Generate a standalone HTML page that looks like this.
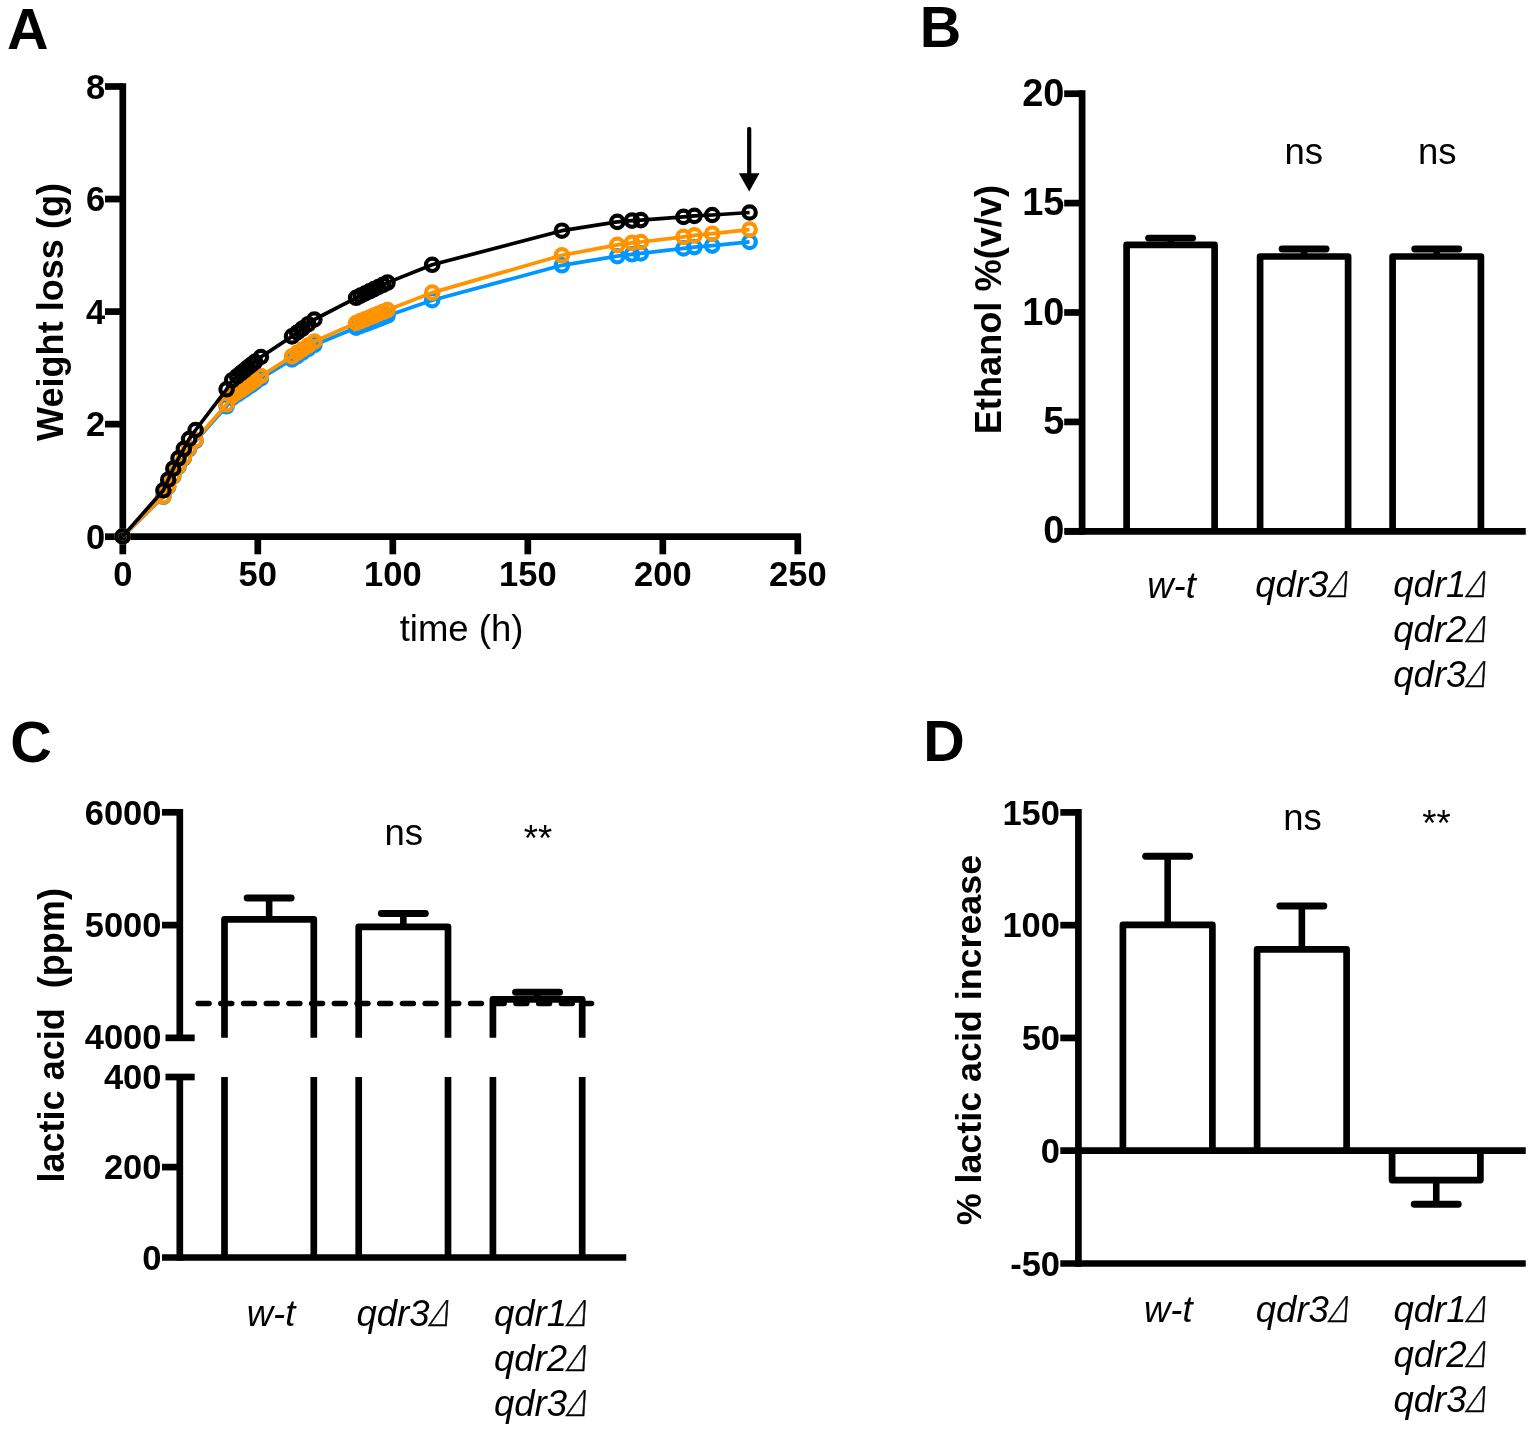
<!DOCTYPE html>
<html lang="en"><head><meta charset="utf-8"><title>Figure</title>
<style>
html,body{margin:0;padding:0;background:#fff;}
body{width:1534px;height:1432px;overflow:hidden;}
svg{display:block;}
text{font-family:"Liberation Sans",Arial,Helvetica,sans-serif;fill:#000;}
.dl{font-family:"DejaVu Sans Light","Liberation Sans",sans-serif;font-weight:normal;font-style:normal;}
</style></head><body>
<svg width="1534" height="1432" viewBox="0 0 1534 1432">
<rect width="1534" height="1432" fill="#fff"/>
<text x="7.00" y="49.00" font-size="57.5" font-weight="bold" font-style="normal" text-anchor="start" >A</text>
<text x="919.80" y="47.20" font-size="57.5" font-weight="bold" font-style="normal" text-anchor="start" >B</text>
<text x="10.30" y="761.80" font-size="57.5" font-weight="bold" font-style="normal" text-anchor="start" >C</text>
<text x="923.30" y="761.30" font-size="57.5" font-weight="bold" font-style="normal" text-anchor="start" >D</text>
<line x1="122.80" y1="83.15" x2="122.80" y2="540.05" stroke="#000" stroke-width="6.7" stroke-linecap="butt" />
<line x1="119.45" y1="536.70" x2="801.05" y2="536.70" stroke="#000" stroke-width="6.7" stroke-linecap="butt" />
<line x1="105.00" y1="536.70" x2="122.80" y2="536.70" stroke="#000" stroke-width="6.7" stroke-linecap="butt" />
<text font-size="34.5" font-weight="bold" font-style="normal" text-anchor="end" transform="translate(105.30,549.00) scale(1,1.03)" >0</text>
<line x1="105.00" y1="424.15" x2="122.80" y2="424.15" stroke="#000" stroke-width="6.7" stroke-linecap="butt" />
<text font-size="34.5" font-weight="bold" font-style="normal" text-anchor="end" transform="translate(105.30,436.45) scale(1,1.03)" >2</text>
<line x1="105.00" y1="311.60" x2="122.80" y2="311.60" stroke="#000" stroke-width="6.7" stroke-linecap="butt" />
<text font-size="34.5" font-weight="bold" font-style="normal" text-anchor="end" transform="translate(105.30,323.90) scale(1,1.03)" >4</text>
<line x1="105.00" y1="199.05" x2="122.80" y2="199.05" stroke="#000" stroke-width="6.7" stroke-linecap="butt" />
<text font-size="34.5" font-weight="bold" font-style="normal" text-anchor="end" transform="translate(105.30,211.35) scale(1,1.03)" >6</text>
<line x1="105.00" y1="86.50" x2="122.80" y2="86.50" stroke="#000" stroke-width="6.7" stroke-linecap="butt" />
<text font-size="34.5" font-weight="bold" font-style="normal" text-anchor="end" transform="translate(105.30,98.80) scale(1,1.03)" >8</text>
<line x1="122.80" y1="536.70" x2="122.80" y2="554.30" stroke="#000" stroke-width="6.7" stroke-linecap="butt" />
<text font-size="34.5" font-weight="bold" font-style="normal" text-anchor="middle" transform="translate(122.80,586.40) scale(1,1.03)" >0</text>
<line x1="257.80" y1="536.70" x2="257.80" y2="554.30" stroke="#000" stroke-width="6.7" stroke-linecap="butt" />
<text font-size="34.5" font-weight="bold" font-style="normal" text-anchor="middle" transform="translate(257.80,586.40) scale(1,1.03)" >50</text>
<line x1="392.80" y1="536.70" x2="392.80" y2="554.30" stroke="#000" stroke-width="6.7" stroke-linecap="butt" />
<text font-size="34.5" font-weight="bold" font-style="normal" text-anchor="middle" transform="translate(392.80,586.40) scale(1,1.03)" >100</text>
<line x1="527.80" y1="536.70" x2="527.80" y2="554.30" stroke="#000" stroke-width="6.7" stroke-linecap="butt" />
<text font-size="34.5" font-weight="bold" font-style="normal" text-anchor="middle" transform="translate(527.80,586.40) scale(1,1.03)" >150</text>
<line x1="662.80" y1="536.70" x2="662.80" y2="554.30" stroke="#000" stroke-width="6.7" stroke-linecap="butt" />
<text font-size="34.5" font-weight="bold" font-style="normal" text-anchor="middle" transform="translate(662.80,586.40) scale(1,1.03)" >200</text>
<line x1="797.80" y1="536.70" x2="797.80" y2="554.30" stroke="#000" stroke-width="6.7" stroke-linecap="butt" />
<text font-size="34.5" font-weight="bold" font-style="normal" text-anchor="middle" transform="translate(797.80,586.40) scale(1,1.03)" >250</text>
<text x="461.50" y="640.80" font-size="36.5" font-weight="normal" font-style="normal" text-anchor="middle" >time (h)</text>
<text x="62.50" y="312.00" font-size="36.1" font-weight="bold" font-style="normal" text-anchor="middle" transform="rotate(-90 62.50 312.00)" >Weight loss (g)</text>
<polyline points="122.7,536.4 163.4,496.8 168.2,486.9 173.3,476.5 178.5,466.9 183.9,458.3 189.1,449.1 195.6,441.0 226.6,406.3 232.2,397.9 237.0,394.7 241.0,392.0 244.5,389.6 248.0,387.2 251.5,384.9 255.0,382.5 260.9,378.5 292.0,359.4 297.2,356.1 302.4,352.7 308.2,349.0 314.4,345.0 356.1,327.7 360.6,326.0 365.0,324.3 369.5,322.6 374.0,320.9 378.5,319.1 383.0,317.4 387.5,315.7 432.2,300.2 561.9,265.3 617.3,256.2 632.0,254.3 640.8,253.4 683.5,248.4 694.4,247.1 712.2,245.6 749.6,241.9" fill="none" stroke="#0096FF" stroke-width="3.7" stroke-linejoin="round"/>
<g fill="none" stroke="#0096FF" stroke-width="4.2">
<circle cx="122.7" cy="536.4" r="6.2"/>
<circle cx="163.4" cy="496.8" r="6.2"/>
<circle cx="168.2" cy="486.9" r="6.2"/>
<circle cx="173.3" cy="476.5" r="6.2"/>
<circle cx="178.5" cy="466.9" r="6.2"/>
<circle cx="183.9" cy="458.3" r="6.2"/>
<circle cx="189.1" cy="449.1" r="6.2"/>
<circle cx="195.6" cy="441.0" r="6.2"/>
<circle cx="226.6" cy="406.3" r="6.2"/>
<circle cx="232.2" cy="397.9" r="6.2"/>
<circle cx="237.0" cy="394.7" r="6.2"/>
<circle cx="241.0" cy="392.0" r="6.2"/>
<circle cx="244.5" cy="389.6" r="6.2"/>
<circle cx="248.0" cy="387.2" r="6.2"/>
<circle cx="251.5" cy="384.9" r="6.2"/>
<circle cx="255.0" cy="382.5" r="6.2"/>
<circle cx="260.9" cy="378.5" r="6.2"/>
<circle cx="292.0" cy="359.4" r="6.2"/>
<circle cx="297.2" cy="356.1" r="6.2"/>
<circle cx="302.4" cy="352.7" r="6.2"/>
<circle cx="308.2" cy="349.0" r="6.2"/>
<circle cx="314.4" cy="345.0" r="6.2"/>
<circle cx="356.1" cy="327.7" r="6.2"/>
<circle cx="360.6" cy="326.0" r="6.2"/>
<circle cx="365.0" cy="324.3" r="6.2"/>
<circle cx="369.5" cy="322.6" r="6.2"/>
<circle cx="374.0" cy="320.9" r="6.2"/>
<circle cx="378.5" cy="319.1" r="6.2"/>
<circle cx="383.0" cy="317.4" r="6.2"/>
<circle cx="387.5" cy="315.7" r="6.2"/>
<circle cx="432.2" cy="300.2" r="6.2"/>
<circle cx="561.9" cy="265.3" r="6.2"/>
<circle cx="617.3" cy="256.2" r="6.2"/>
<circle cx="632.0" cy="254.3" r="6.2"/>
<circle cx="640.8" cy="253.4" r="6.2"/>
<circle cx="683.5" cy="248.4" r="6.2"/>
<circle cx="694.4" cy="247.1" r="6.2"/>
<circle cx="712.2" cy="245.6" r="6.2"/>
<circle cx="749.6" cy="241.9" r="6.2"/>
</g>
<polyline points="122.7,536.4 163.4,496.3 168.2,486.3 173.3,475.8 178.5,466.2 183.9,457.4 189.1,448.2 195.6,440.0 226.6,404.3 232.2,395.9 237.0,392.5 241.0,389.8 244.5,387.3 248.0,384.9 251.5,382.5 255.0,380.1 260.9,376.0 292.0,356.4 297.2,352.9 302.4,349.5 308.2,345.6 314.4,341.5 356.1,323.0 360.6,321.1 365.0,319.3 369.5,317.5 374.0,315.6 378.5,313.7 383.0,311.9 387.5,310.0 432.2,292.6 561.9,255.3 617.3,244.9 632.0,242.9 640.8,242.0 683.5,236.9 694.4,235.4 712.2,233.7 749.6,229.6" fill="none" stroke="#FF9300" stroke-width="3.7" stroke-linejoin="round"/>
<g fill="none" stroke="#FF9300" stroke-width="4.2">
<circle cx="122.7" cy="536.4" r="6.2"/>
<circle cx="163.4" cy="496.3" r="6.2"/>
<circle cx="168.2" cy="486.3" r="6.2"/>
<circle cx="173.3" cy="475.8" r="6.2"/>
<circle cx="178.5" cy="466.2" r="6.2"/>
<circle cx="183.9" cy="457.4" r="6.2"/>
<circle cx="189.1" cy="448.2" r="6.2"/>
<circle cx="195.6" cy="440.0" r="6.2"/>
<circle cx="226.6" cy="404.3" r="6.2"/>
<circle cx="232.2" cy="395.9" r="6.2"/>
<circle cx="237.0" cy="392.5" r="6.2"/>
<circle cx="241.0" cy="389.8" r="6.2"/>
<circle cx="244.5" cy="387.3" r="6.2"/>
<circle cx="248.0" cy="384.9" r="6.2"/>
<circle cx="251.5" cy="382.5" r="6.2"/>
<circle cx="255.0" cy="380.1" r="6.2"/>
<circle cx="260.9" cy="376.0" r="6.2"/>
<circle cx="292.0" cy="356.4" r="6.2"/>
<circle cx="297.2" cy="352.9" r="6.2"/>
<circle cx="302.4" cy="349.5" r="6.2"/>
<circle cx="308.2" cy="345.6" r="6.2"/>
<circle cx="314.4" cy="341.5" r="6.2"/>
<circle cx="356.1" cy="323.0" r="6.2"/>
<circle cx="360.6" cy="321.1" r="6.2"/>
<circle cx="365.0" cy="319.3" r="6.2"/>
<circle cx="369.5" cy="317.5" r="6.2"/>
<circle cx="374.0" cy="315.6" r="6.2"/>
<circle cx="378.5" cy="313.7" r="6.2"/>
<circle cx="383.0" cy="311.9" r="6.2"/>
<circle cx="387.5" cy="310.0" r="6.2"/>
<circle cx="432.2" cy="292.6" r="6.2"/>
<circle cx="561.9" cy="255.3" r="6.2"/>
<circle cx="617.3" cy="244.9" r="6.2"/>
<circle cx="632.0" cy="242.9" r="6.2"/>
<circle cx="640.8" cy="242.0" r="6.2"/>
<circle cx="683.5" cy="236.9" r="6.2"/>
<circle cx="694.4" cy="235.4" r="6.2"/>
<circle cx="712.2" cy="233.7" r="6.2"/>
<circle cx="749.6" cy="229.6" r="6.2"/>
</g>
<polyline points="122.7,536.4 163.4,490.3 168.2,479.7 173.3,468.6 178.5,458.3 183.9,448.9 189.1,439.0 195.6,430.0 226.6,389.3 232.2,380.2 237.0,376.3 241.0,373.1 244.5,370.3 248.0,367.4 251.5,364.6 255.0,361.8 260.9,357.0 292.0,336.4 297.2,332.5 302.4,328.6 308.2,324.2 314.4,319.5 356.1,297.8 360.6,295.6 365.0,293.5 369.5,291.3 374.0,289.1 378.5,287.0 383.0,284.8 387.5,282.6 432.2,264.8 561.9,230.7 617.3,221.9 632.0,220.6 640.8,220.1 683.5,216.9 694.4,215.9 712.2,215.0 749.6,212.5" fill="none" stroke="#000" stroke-width="3.7" stroke-linejoin="round"/>
<g fill="none" stroke="#000" stroke-width="4.2">
<circle cx="122.7" cy="536.4" r="6.2"/>
<circle cx="163.4" cy="490.3" r="6.2"/>
<circle cx="168.2" cy="479.7" r="6.2"/>
<circle cx="173.3" cy="468.6" r="6.2"/>
<circle cx="178.5" cy="458.3" r="6.2"/>
<circle cx="183.9" cy="448.9" r="6.2"/>
<circle cx="189.1" cy="439.0" r="6.2"/>
<circle cx="195.6" cy="430.0" r="6.2"/>
<circle cx="226.6" cy="389.3" r="6.2"/>
<circle cx="232.2" cy="380.2" r="6.2"/>
<circle cx="237.0" cy="376.3" r="6.2"/>
<circle cx="241.0" cy="373.1" r="6.2"/>
<circle cx="244.5" cy="370.3" r="6.2"/>
<circle cx="248.0" cy="367.4" r="6.2"/>
<circle cx="251.5" cy="364.6" r="6.2"/>
<circle cx="255.0" cy="361.8" r="6.2"/>
<circle cx="260.9" cy="357.0" r="6.2"/>
<circle cx="292.0" cy="336.4" r="6.2"/>
<circle cx="297.2" cy="332.5" r="6.2"/>
<circle cx="302.4" cy="328.6" r="6.2"/>
<circle cx="308.2" cy="324.2" r="6.2"/>
<circle cx="314.4" cy="319.5" r="6.2"/>
<circle cx="356.1" cy="297.8" r="6.2"/>
<circle cx="360.6" cy="295.6" r="6.2"/>
<circle cx="365.0" cy="293.5" r="6.2"/>
<circle cx="369.5" cy="291.3" r="6.2"/>
<circle cx="374.0" cy="289.1" r="6.2"/>
<circle cx="378.5" cy="287.0" r="6.2"/>
<circle cx="383.0" cy="284.8" r="6.2"/>
<circle cx="387.5" cy="282.6" r="6.2"/>
<circle cx="432.2" cy="264.8" r="6.2"/>
<circle cx="561.9" cy="230.7" r="6.2"/>
<circle cx="617.3" cy="221.9" r="6.2"/>
<circle cx="632.0" cy="220.6" r="6.2"/>
<circle cx="640.8" cy="220.1" r="6.2"/>
<circle cx="683.5" cy="216.9" r="6.2"/>
<circle cx="694.4" cy="215.9" r="6.2"/>
<circle cx="712.2" cy="215.0" r="6.2"/>
<circle cx="749.6" cy="212.5" r="6.2"/>
</g>
<line x1="749.20" y1="128.80" x2="749.20" y2="176.00" stroke="#000" stroke-width="4.2" stroke-linecap="round" />
<polygon points="738.9,173.3 759.5,173.3 749.2,191.5" fill="#000"/>
<line x1="1082.10" y1="90.35" x2="1082.10" y2="534.65" stroke="#000" stroke-width="6.7" stroke-linecap="butt" />
<line x1="1065.00" y1="531.30" x2="1525.75" y2="531.30" stroke="#000" stroke-width="6.7" stroke-linecap="butt" />
<line x1="1064.20" y1="531.30" x2="1082.10" y2="531.30" stroke="#000" stroke-width="6.7" stroke-linecap="butt" />
<text font-size="37.9" font-weight="bold" font-style="normal" text-anchor="end" transform="translate(1064.30,543.40) scale(1,1.03)" >0</text>
<line x1="1064.20" y1="421.90" x2="1082.10" y2="421.90" stroke="#000" stroke-width="6.7" stroke-linecap="butt" />
<text font-size="37.9" font-weight="bold" font-style="normal" text-anchor="end" transform="translate(1064.30,434.00) scale(1,1.03)" >5</text>
<line x1="1064.20" y1="312.50" x2="1082.10" y2="312.50" stroke="#000" stroke-width="6.7" stroke-linecap="butt" />
<text font-size="37.9" font-weight="bold" font-style="normal" text-anchor="end" transform="translate(1064.30,324.60) scale(1,1.03)" >10</text>
<line x1="1064.20" y1="203.10" x2="1082.10" y2="203.10" stroke="#000" stroke-width="6.7" stroke-linecap="butt" />
<text font-size="37.9" font-weight="bold" font-style="normal" text-anchor="end" transform="translate(1064.30,215.20) scale(1,1.03)" >15</text>
<line x1="1064.20" y1="93.70" x2="1082.10" y2="93.70" stroke="#000" stroke-width="6.7" stroke-linecap="butt" />
<text font-size="37.9" font-weight="bold" font-style="normal" text-anchor="end" transform="translate(1064.30,105.80) scale(1,1.03)" >20</text>
<line x1="1170.60" y1="238.11" x2="1170.60" y2="244.89" stroke="#000" stroke-width="6.6" stroke-linecap="butt" />
<line x1="1148.60" y1="238.11" x2="1192.60" y2="238.11" stroke="#000" stroke-width="6.9" stroke-linecap="round" />
<path d="M1126.60,531.30 L1126.60,244.89 L1214.60,244.89 L1214.60,531.30" fill="none" stroke="#000" stroke-width="6.7" stroke-linejoin="round"/>
<line x1="1304.10" y1="249.05" x2="1304.10" y2="256.49" stroke="#000" stroke-width="6.6" stroke-linecap="butt" />
<line x1="1282.10" y1="249.05" x2="1326.10" y2="249.05" stroke="#000" stroke-width="6.9" stroke-linecap="round" />
<path d="M1260.10,531.30 L1260.10,256.49 L1348.10,256.49 L1348.10,531.30" fill="none" stroke="#000" stroke-width="6.7" stroke-linejoin="round"/>
<line x1="1436.75" y1="249.05" x2="1436.75" y2="256.49" stroke="#000" stroke-width="6.6" stroke-linecap="butt" />
<line x1="1414.75" y1="249.05" x2="1458.75" y2="249.05" stroke="#000" stroke-width="6.9" stroke-linecap="round" />
<path d="M1392.60,531.30 L1392.60,256.49 L1480.90,256.49 L1480.90,531.30" fill="none" stroke="#000" stroke-width="6.7" stroke-linejoin="round"/>
<text x="1303.80" y="163.75" font-size="36.5" font-weight="normal" font-style="normal" text-anchor="middle" >ns</text>
<text x="1437.20" y="163.75" font-size="36.5" font-weight="normal" font-style="normal" text-anchor="middle" >ns</text>
<text x="1000.90" y="309.60" font-size="36.2" font-weight="bold" font-style="normal" text-anchor="middle" transform="rotate(-90 1000.90 309.60)" >Ethanol %(v/v)</text>
<text x="1171.60" y="597.95" font-size="36.5" font-weight="normal" font-style="italic" text-anchor="middle" >w-t</text>
<text x="1255.30" y="596.70" font-size="36.5" font-weight="normal" font-style="italic" text-anchor="start" >qdr3</text>
<text class="dl" font-size="35.4" transform="translate(1325.90,596.70) skewX(-21) scale(0.85,1)" stroke="#000" stroke-width="0.5">Δ</text>
<text x="1393.30" y="596.70" font-size="36.5" font-weight="normal" font-style="italic" text-anchor="start" >qdr1</text>
<text class="dl" font-size="35.4" transform="translate(1463.90,596.70) skewX(-21) scale(0.85,1)" stroke="#000" stroke-width="0.5">Δ</text>
<text x="1393.30" y="641.70" font-size="36.5" font-weight="normal" font-style="italic" text-anchor="start" >qdr2</text>
<text class="dl" font-size="35.4" transform="translate(1463.90,641.70) skewX(-21) scale(0.85,1)" stroke="#000" stroke-width="0.5">Δ</text>
<text x="1393.30" y="686.70" font-size="36.5" font-weight="normal" font-style="italic" text-anchor="start" >qdr3</text>
<text class="dl" font-size="35.4" transform="translate(1463.90,686.70) skewX(-21) scale(0.85,1)" stroke="#000" stroke-width="0.5">Δ</text>
<line x1="179.80" y1="808.95" x2="179.80" y2="1037.85" stroke="#000" stroke-width="6.7" stroke-linecap="butt" />
<line x1="179.80" y1="1077.00" x2="179.80" y2="1260.85" stroke="#000" stroke-width="6.7" stroke-linecap="butt" />
<line x1="162.00" y1="1257.50" x2="626.25" y2="1257.50" stroke="#000" stroke-width="6.7" stroke-linecap="butt" />
<line x1="162.00" y1="812.30" x2="179.80" y2="812.30" stroke="#000" stroke-width="6.7" stroke-linecap="butt" />
<text font-size="34.5" font-weight="bold" font-style="normal" text-anchor="end" transform="translate(161.50,824.60) scale(1,1.03)" >6000</text>
<line x1="162.00" y1="925.10" x2="179.80" y2="925.10" stroke="#000" stroke-width="6.7" stroke-linecap="butt" />
<text font-size="34.5" font-weight="bold" font-style="normal" text-anchor="end" transform="translate(161.50,937.40) scale(1,1.03)" >5000</text>
<line x1="165.50" y1="1037.85" x2="194.70" y2="1037.85" stroke="#000" stroke-width="6.7" stroke-linecap="butt" />
<text font-size="34.5" font-weight="bold" font-style="normal" text-anchor="end" transform="translate(161.50,1049.15) scale(1,1.03)" >4000</text>
<line x1="165.50" y1="1077.00" x2="194.70" y2="1077.00" stroke="#000" stroke-width="6.7" stroke-linecap="butt" />
<text font-size="34.5" font-weight="bold" font-style="normal" text-anchor="end" transform="translate(161.50,1089.30) scale(1,1.03)" >400</text>
<line x1="162.00" y1="1167.10" x2="179.80" y2="1167.10" stroke="#000" stroke-width="6.7" stroke-linecap="butt" />
<text font-size="34.5" font-weight="bold" font-style="normal" text-anchor="end" transform="translate(161.50,1179.40) scale(1,1.03)" >200</text>
<text font-size="34.5" font-weight="bold" font-style="normal" text-anchor="end" transform="translate(161.50,1269.80) scale(1,1.03)" >0</text>
<line x1="198.2" y1="1003.5" x2="591.5" y2="1003.5" stroke="#000" stroke-width="5.6" stroke-linecap="round" stroke-dasharray="10.8 11.9"/>
<line x1="269.15" y1="898.00" x2="269.15" y2="919.40" stroke="#000" stroke-width="6.6" stroke-linecap="butt" />
<line x1="247.15" y1="898.00" x2="291.15" y2="898.00" stroke="#000" stroke-width="6.9" stroke-linecap="round" />
<path d="M224.50,1037.85 L224.50,919.40 L313.80,919.40 L313.80,1037.85" fill="none" stroke="#000" stroke-width="6.7" stroke-linejoin="round"/>
<line x1="224.50" y1="1077.00" x2="224.50" y2="1257.50" stroke="#000" stroke-width="6.7" stroke-linecap="butt" />
<line x1="313.80" y1="1077.00" x2="313.80" y2="1257.50" stroke="#000" stroke-width="6.7" stroke-linecap="butt" />
<line x1="403.35" y1="913.50" x2="403.35" y2="926.90" stroke="#000" stroke-width="6.6" stroke-linecap="butt" />
<line x1="381.35" y1="913.50" x2="425.35" y2="913.50" stroke="#000" stroke-width="6.9" stroke-linecap="round" />
<path d="M358.70,1037.85 L358.70,926.90 L448.00,926.90 L448.00,1037.85" fill="none" stroke="#000" stroke-width="6.7" stroke-linejoin="round"/>
<line x1="358.70" y1="1077.00" x2="358.70" y2="1257.50" stroke="#000" stroke-width="6.7" stroke-linecap="butt" />
<line x1="448.00" y1="1077.00" x2="448.00" y2="1257.50" stroke="#000" stroke-width="6.7" stroke-linecap="butt" />
<line x1="537.55" y1="992.25" x2="537.55" y2="999.40" stroke="#000" stroke-width="6.6" stroke-linecap="butt" />
<line x1="515.55" y1="992.25" x2="559.55" y2="992.25" stroke="#000" stroke-width="6.9" stroke-linecap="round" />
<path d="M492.90,1037.85 L492.90,999.40 L582.20,999.40 L582.20,1037.85" fill="none" stroke="#000" stroke-width="6.7" stroke-linejoin="round"/>
<line x1="492.90" y1="1077.00" x2="492.90" y2="1257.50" stroke="#000" stroke-width="6.7" stroke-linecap="butt" />
<line x1="582.20" y1="1077.00" x2="582.20" y2="1257.50" stroke="#000" stroke-width="6.7" stroke-linecap="butt" />
<text x="403.80" y="844.75" font-size="36.5" font-weight="normal" font-style="normal" text-anchor="middle" >ns</text>
<text x="538.00" y="851.40" font-size="36.5" font-weight="normal" font-style="normal" text-anchor="middle" >**</text>
<text x="63.60" y="1035.30" font-size="36.05" font-weight="bold" font-style="normal" text-anchor="middle" transform="rotate(-90 63.60 1035.30)" xml:space="preserve" style="white-space:pre">lactic acid  (ppm)</text>
<text x="271.00" y="1326.20" font-size="36.5" font-weight="normal" font-style="italic" text-anchor="middle" >w-t</text>
<text x="356.50" y="1325.95" font-size="36.5" font-weight="normal" font-style="italic" text-anchor="start" >qdr3</text>
<text class="dl" font-size="35.4" transform="translate(427.10,1325.95) skewX(-21) scale(0.85,1)" stroke="#000" stroke-width="0.5">Δ</text>
<text x="494.00" y="1325.95" font-size="36.5" font-weight="normal" font-style="italic" text-anchor="start" >qdr1</text>
<text class="dl" font-size="35.4" transform="translate(564.60,1325.95) skewX(-21) scale(0.85,1)" stroke="#000" stroke-width="0.5">Δ</text>
<text x="494.00" y="1371.20" font-size="36.5" font-weight="normal" font-style="italic" text-anchor="start" >qdr2</text>
<text class="dl" font-size="35.4" transform="translate(564.60,1371.20) skewX(-21) scale(0.85,1)" stroke="#000" stroke-width="0.5">Δ</text>
<text x="494.00" y="1416.45" font-size="36.5" font-weight="normal" font-style="italic" text-anchor="start" >qdr3</text>
<text class="dl" font-size="35.4" transform="translate(564.60,1416.45) skewX(-21) scale(0.85,1)" stroke="#000" stroke-width="0.5">Δ</text>
<line x1="1078.40" y1="809.05" x2="1078.40" y2="1266.85" stroke="#000" stroke-width="6.7" stroke-linecap="butt" />
<line x1="1060.30" y1="1150.60" x2="1525.75" y2="1150.60" stroke="#000" stroke-width="6.7" stroke-linecap="butt" />
<line x1="1060.30" y1="1263.50" x2="1525.75" y2="1263.50" stroke="#000" stroke-width="6.7" stroke-linecap="butt" />
<line x1="1060.30" y1="812.40" x2="1078.40" y2="812.40" stroke="#000" stroke-width="6.7" stroke-linecap="butt" />
<text font-size="34.5" font-weight="bold" font-style="normal" text-anchor="end" transform="translate(1060.00,824.70) scale(1,1.03)" >150</text>
<line x1="1060.30" y1="925.17" x2="1078.40" y2="925.17" stroke="#000" stroke-width="6.7" stroke-linecap="butt" />
<text font-size="34.5" font-weight="bold" font-style="normal" text-anchor="end" transform="translate(1060.00,937.47) scale(1,1.03)" >100</text>
<line x1="1060.30" y1="1037.95" x2="1078.40" y2="1037.95" stroke="#000" stroke-width="6.7" stroke-linecap="butt" />
<text font-size="34.5" font-weight="bold" font-style="normal" text-anchor="end" transform="translate(1060.00,1050.25) scale(1,1.03)" >50</text>
<text font-size="34.5" font-weight="bold" font-style="normal" text-anchor="end" transform="translate(1060.00,1163.00) scale(1,1.03)" >0</text>
<text font-size="34.5" font-weight="bold" font-style="normal" text-anchor="end" transform="translate(1060.00,1275.90) scale(1,1.03)" >-50</text>
<line x1="1167.65" y1="856.25" x2="1167.65" y2="924.90" stroke="#000" stroke-width="6.6" stroke-linecap="butt" />
<line x1="1145.65" y1="856.25" x2="1189.65" y2="856.25" stroke="#000" stroke-width="6.9" stroke-linecap="round" />
<path d="M1122.90,1150.60 L1122.90,924.90 L1212.40,924.90 L1212.40,1150.60" fill="none" stroke="#000" stroke-width="6.7" stroke-linejoin="round"/>
<line x1="1301.85" y1="906.00" x2="1301.85" y2="949.40" stroke="#000" stroke-width="6.6" stroke-linecap="butt" />
<line x1="1279.85" y1="906.00" x2="1323.85" y2="906.00" stroke="#000" stroke-width="6.9" stroke-linecap="round" />
<path d="M1257.10,1150.60 L1257.10,949.40 L1346.60,949.40 L1346.60,1150.60" fill="none" stroke="#000" stroke-width="6.7" stroke-linejoin="round"/>
<line x1="1436.25" y1="1204.25" x2="1436.25" y2="1180.10" stroke="#000" stroke-width="6.6" stroke-linecap="butt" />
<line x1="1414.25" y1="1204.25" x2="1458.25" y2="1204.25" stroke="#000" stroke-width="6.9" stroke-linecap="round" />
<path d="M1392.10,1150.60 L1392.10,1180.10 L1480.40,1180.10 L1480.40,1150.60" fill="none" stroke="#000" stroke-width="6.7" stroke-linejoin="round"/>
<text x="1302.50" y="829.75" font-size="36.5" font-weight="normal" font-style="normal" text-anchor="middle" >ns</text>
<text x="1436.50" y="836.30" font-size="36.5" font-weight="normal" font-style="normal" text-anchor="middle" >**</text>
<text x="981.10" y="1040.10" font-size="35.85" font-weight="bold" font-style="normal" text-anchor="middle" transform="rotate(-90 981.10 1040.10)" >% lactic acid increase</text>
<text x="1168.30" y="1322.20" font-size="36.5" font-weight="normal" font-style="italic" text-anchor="middle" >w-t</text>
<text x="1255.80" y="1322.20" font-size="36.5" font-weight="normal" font-style="italic" text-anchor="start" >qdr3</text>
<text class="dl" font-size="35.4" transform="translate(1326.40,1322.20) skewX(-21) scale(0.85,1)" stroke="#000" stroke-width="0.5">Δ</text>
<text x="1393.50" y="1322.20" font-size="36.5" font-weight="normal" font-style="italic" text-anchor="start" >qdr1</text>
<text class="dl" font-size="35.4" transform="translate(1464.10,1322.20) skewX(-21) scale(0.85,1)" stroke="#000" stroke-width="0.5">Δ</text>
<text x="1393.50" y="1367.20" font-size="36.5" font-weight="normal" font-style="italic" text-anchor="start" >qdr2</text>
<text class="dl" font-size="35.4" transform="translate(1464.10,1367.20) skewX(-21) scale(0.85,1)" stroke="#000" stroke-width="0.5">Δ</text>
<text x="1393.50" y="1412.20" font-size="36.5" font-weight="normal" font-style="italic" text-anchor="start" >qdr3</text>
<text class="dl" font-size="35.4" transform="translate(1464.10,1412.20) skewX(-21) scale(0.85,1)" stroke="#000" stroke-width="0.5">Δ</text>
</svg>
</body></html>
